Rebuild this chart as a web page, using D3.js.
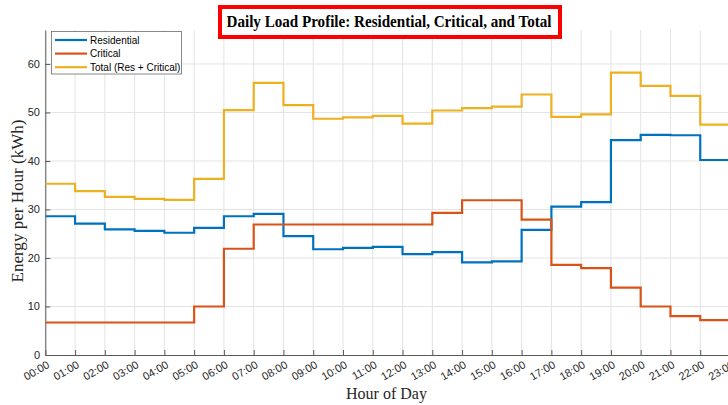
<!DOCTYPE html>
<html>
<head>
<meta charset="utf-8">
<script src="https://cdn.jsdelivr.net/npm/d3@7"></script>
<style>
  body { margin: 0; background: #fff; }
  svg { display: block; }
</style>
</head>
<body>
<svg id="chart" width="728" height="405"></svg>
<script>
// hourly values (kWh)
const hours = d3.range(0, 24);
const hourLabels = hours.map(h => String(h).padStart(2, '0') + ':00');

const residential = [28.6, 27.1, 25.9, 25.6, 25.2, 26.2, 28.6, 29.1, 24.5, 21.8, 22.1, 22.3,
  20.8, 21.2, 19.1, 19.3, 25.8, 30.6, 31.5, 44.3, 45.4, 45.3, 40.2, 40.2];
const critical = [6.7, 6.7, 6.7, 6.7, 6.7, 10.0, 21.9, 26.9, 26.9, 26.9, 26.9, 26.9,
  26.9, 29.3, 31.9, 31.9, 27.9, 18.6, 17.9, 13.9, 10.0, 8.0, 7.2, 7.2];
const total = [35.3, 33.8, 32.6, 32.2, 32.0, 36.3, 50.5, 56.1, 51.5, 48.7, 49.0, 49.3,
  47.7, 50.4, 50.9, 51.2, 53.7, 49.1, 49.6, 58.2, 55.5, 53.4, 47.5, 47.5];

const seriesNames = ['Residential', 'Critical', 'Total (Res + Critical)'];
const seriesColors = ['#0072BD', '#D95319', '#EDB120'];
const yTicks = [0, 10, 20, 30, 40, 50, 60];

class LoadProfileChart {
  constructor() {
    this.svg = d3.select('#chart');
    this.left = 45.3;
    this.top = 30;
    this.bottom = 355;
    this.setup();
  }

  setup() {
    let svg = this.svg;

    this.xScale = d3.scaleLinear()
      .domain([0, 23])
      .range([this.left, this.left + 23 * 29.77]);
    this.yScale = d3.scaleLinear()
      .domain([0, 67])
      .range([this.bottom, this.top]);

    svg.append('defs').append('clipPath').attr('id', 'plotClip')
      .append('rect')
      .attr('x', this.left).attr('y', this.top)
      .attr('width', 800).attr('height', this.bottom - this.top);

    // grid
    let grid = svg.append('g');
    grid.selectAll('line.vg')
      .data(hours)
      .join('line')
      .attr('x1', d => this.xScale(d)).attr('x2', d => this.xScale(d))
      .attr('y1', this.top).attr('y2', this.bottom)
      .attr('stroke', '#e3e3e3').attr('stroke-width', 1);
    grid.selectAll('line.hg')
      .data(yTicks.slice(1))
      .join('line')
      .attr('x1', this.left).attr('x2', 800)
      .attr('y1', d => this.yScale(d)).attr('y2', d => this.yScale(d))
      .attr('stroke', '#e3e3e3').attr('stroke-width', 1);

    // axes (ticks inside like matlab)
    let xAxis = svg.append('g')
      .attr('transform', `translate(0, ${this.bottom})`)
      .call(d3.axisTop(this.xScale).tickValues(hours).tickFormat('').tickSize(5).tickSizeOuter(0));
    xAxis.select('.domain').attr('stroke', '#5a5a5a');
    xAxis.selectAll('.tick line').attr('stroke', '#5a5a5a');

    let yAxis = svg.append('g')
      .attr('transform', `translate(${this.left}, 0)`)
      .call(d3.axisRight(this.yScale).tickValues(yTicks).tickFormat('').tickSize(5).tickSizeOuter(0));
    yAxis.select('.domain').attr('stroke', '#5a5a5a');
    yAxis.selectAll('.tick line').attr('stroke', '#5a5a5a');

    // tick labels
    svg.append('g').selectAll('text')
      .data(yTicks)
      .join('text')
      .attr('x', 40)
      .attr('y', d => this.yScale(d))
      .attr('dy', '0.35em')
      .attr('text-anchor', 'end')
      .style('font', '11px "Liberation Sans", Arial, sans-serif')
      .style('fill', '#262626')
      .text(d => d);

    svg.append('g').selectAll('text')
      .data(hours)
      .join('text')
      .attr('transform', d => `translate(${this.xScale(d) + 5}, ${this.bottom + 12}) rotate(-30)`)
      .attr('text-anchor', 'end')
      .style('font', '11px "Liberation Sans", Arial, sans-serif')
      .style('fill', '#262626')
      .text((d, i) => hourLabels[i]);

    // axis titles
    svg.append('text')
      .attr('transform', `translate(23, 201) rotate(-90)`)
      .attr('text-anchor', 'middle')
      .attr('textLength', 163)
      .attr('lengthAdjust', 'spacingAndGlyphs')
      .style('font', '16px "Liberation Serif", "Times New Roman", serif')
      .style('fill', '#262626')
      .text('Energy per Hour (kWh)');

    svg.append('text')
      .attr('x', 386.5)
      .attr('y', 399)
      .attr('text-anchor', 'middle')
      .style('font', '16px "Liberation Serif", "Times New Roman", serif')
      .style('fill', '#262626')
      .text('Hour of Day');

    // title with red frame
    svg.append('rect')
      .attr('x', 220).attr('y', 7)
      .attr('width', 340).attr('height', 30)
      .attr('fill', '#fff')
      .attr('stroke', '#ff0000').attr('stroke-width', 4);
    svg.append('text')
      .attr('x', 389)
      .attr('y', 27)
      .attr('text-anchor', 'middle')
      .attr('textLength', 325)
      .attr('lengthAdjust', 'spacingAndGlyphs')
      .style('font', 'bold 16px "Liberation Serif", "Times New Roman", serif')
      .style('fill', '#000')
      .text('Daily Load Profile: Residential, Critical, and Total');

    this.drawLines();
    this.drawLegend();
  }

  drawLines() {
    let allSeries = [residential, critical, total];
    let line = d3.line()
      .x((d, i) => this.xScale(hours[i]))
      .y(d => this.yScale(d))
      .curve(d3.curveStepAfter);

    this.svg.append('g')
      .attr('clip-path', 'url(#plotClip)')
      .selectAll('path')
      .data(allSeries)
      .join('path')
      .attr('fill', 'none')
      .attr('stroke', (d, i) => seriesColors[i])
      .attr('stroke-width', 2.2)
      .attr('d', d => line(d));
  }

  drawLegend() {
    let legend = this.svg.append('g');
    legend.append('rect')
      .attr('x', 51.5).attr('y', 31.5)
      .attr('width', 130).attr('height', 42.5)
      .attr('fill', '#fff')
      .attr('stroke', '#6b6b6b').attr('stroke-width', 0.8);

    let rows = legend.selectAll('g.row')
      .data(seriesNames)
      .join('g')
      .attr('transform', (d, i) => `translate(0, ${40 + i * 13.6})`);
    rows.append('line')
      .attr('x1', 55).attr('x2', 87)
      .attr('stroke', (d, i) => seriesColors[i])
      .attr('stroke-width', 2.2);
    rows.append('text')
      .attr('x', 90)
      .attr('dy', '0.35em')
      .style('font', '10px "Liberation Sans", Arial, sans-serif')
      .style('fill', '#000')
      .text(d => d);
  }
}

new LoadProfileChart();
</script>
</body>
</html>
